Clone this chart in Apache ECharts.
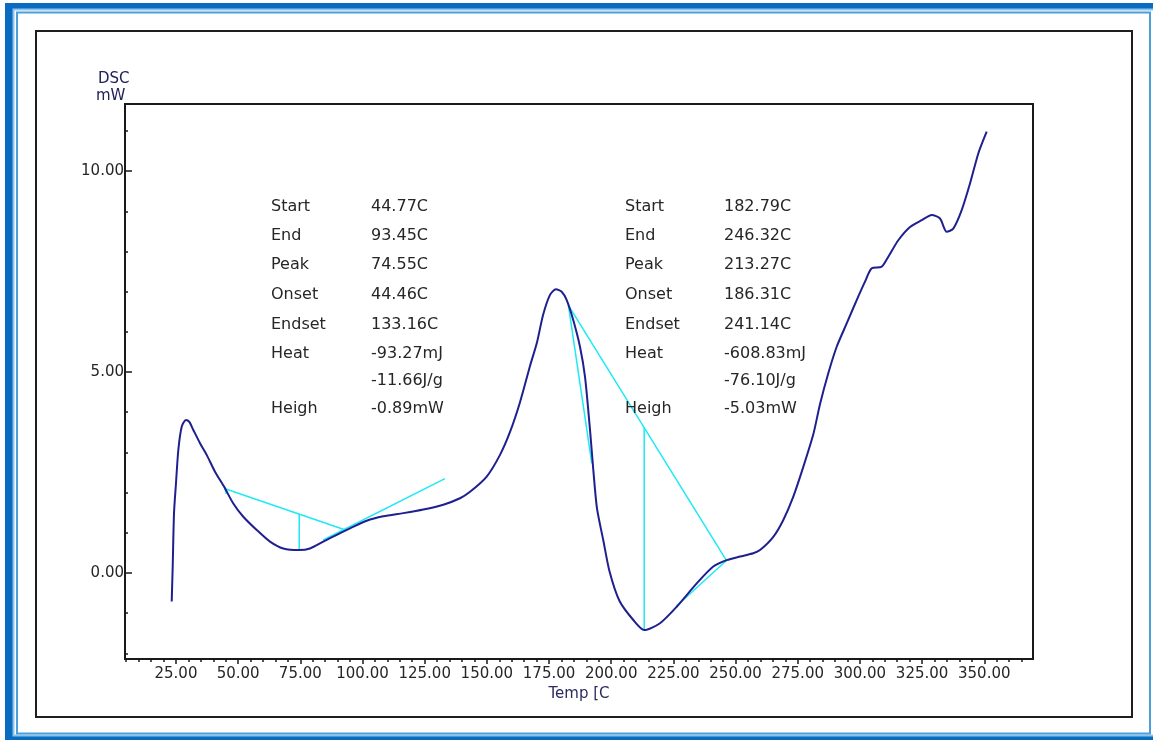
<!DOCTYPE html>
<html>
<head>
<meta charset="utf-8">
<title>DSC</title>
<script src="https://cdn.jsdelivr.net/npm/echarts@6.0.0/dist/echarts.min.js"></script>
<style>
  html, body { margin: 0; padding: 0; background: #ffffff; }
  #chart { width: 1153px; height: 740px; }
</style>
</head>
<body>
<div id="chart"></div>
<script>
// DSC trace: temperature (C) and heat flow (mW)
const temps = [
  23.28, 23.68, 24.21, 25.01, 25.94, 27.30, 29.03, 30.36, 31.97, 34.66,
  37.35, 40.69, 44.31, 48.05, 52.07, 57.46, 62.81, 68.15, 74.55, 78.89,
  84.24, 89.63, 94.97, 101.69, 108.36, 116.41, 124.45, 132.49, 139.20, 143.23,
  149.94, 155.29, 159.31, 163.33, 167.35, 170.20, 172.60, 175.39, 177.80, 180.10,
  182.11, 184.76, 187.45, 189.47, 191.48, 192.81, 194.30, 196.80, 199.28, 203.30,
  208.89, 213.27, 219.63, 226.34, 234.38, 241.05, 246.44, 251.79, 257.14, 259.83,
  265.18, 269.20, 273.22, 277.24, 281.26, 283.95, 287.29, 290.67, 294.69, 298.71,
  302.05, 304.74, 308.76, 311.42, 315.44, 320.15, 324.85, 328.87, 332.21, 334.90,
  337.55, 340.93, 344.27, 347.61, 350.98
];
const dsc = [
  -0.71, 0.16, 1.49, 2.24, 3.06, 3.64, 3.81, 3.76, 3.56, 3.23,
  2.94, 2.52, 2.15, 1.73, 1.40, 1.07, 0.78, 0.61, 0.57, 0.61,
  0.78, 0.95, 1.11, 1.30, 1.41, 1.49, 1.58, 1.70, 1.86, 2.02,
  2.40, 2.94, 3.51, 4.25, 5.15, 5.75, 6.42, 6.92, 7.06, 7.00,
  6.79, 6.29, 5.63, 4.88, 3.56, 2.56, 1.60, 0.82, 0.05, -0.69,
  -1.17, -1.42, -1.25, -0.84, -0.26, 0.16, 0.32, 0.41, 0.49, 0.57,
  0.90, 1.32, 1.90, 2.64, 3.45, 4.20, 4.97, 5.63, 6.21, 6.79,
  7.25, 7.58, 7.62, 7.87, 8.28, 8.61, 8.78, 8.91, 8.82, 8.49,
  8.57, 9.03, 9.69, 10.44, 10.98
];

// Axis ticks
const xMajorTicks = [25, 50, 75, 100, 125, 150, 175, 200, 225, 250, 275, 300, 325, 350];
const xMinorTicks = [5, 10, 15, 20, 30, 35, 40, 45, 55, 60, 65, 70, 80, 85, 90, 95, 105, 110, 115, 120,
  130, 135, 140, 145, 155, 160, 165, 170, 180, 185, 190, 195, 205, 210, 215, 220, 230, 235, 240, 245,
  255, 260, 265, 270, 280, 285, 290, 295, 305, 310, 315, 320, 330, 335, 340, 345, 355, 360, 365];
const yMajorTicks = [0, 5, 10];
const yMinorTicks = [-2, -1, 1, 2, 3, 4, 6, 7, 8, 9, 11];

// Peak analysis results: Start, End, Peak, Onset, Endset (C)
const peak1Temps = [44.77, 93.45, 74.55, 44.46, 133.16];
const peak1Heat = [-93.27, -11.66];   // mJ, J/g
const peak1Height = -0.89;            // mW
const peak2Temps = [182.79, 246.32, 213.27, 186.31, 241.14];
const peak2Heat = [-608.83, -76.10];
const peak2Height = -5.03;

// Tangent segments [t0, v0, t1, v1]
const peak1Tangents = [[44.46, 2.16, 45.20, 1.97], [84.20, 0.82, 133.16, 2.35]];
const peak2Tangents = [[182.79, 6.66, 192.20, 2.73], [226.30, -0.82, 246.32, 0.31]];

const rowLabels = ['Start', 'End', 'Peak', 'Onset', 'Endset', 'Heat', '', 'Height'];

const FONT = '"DejaVu Sans", "Liberation Sans", sans-serif';
const CURVE = '#1f1f8f';
const CYAN = '#1ee9f5';
const INK = '#262626';

function dscAt(t) {
  for (let i = 0; i < temps.length - 1; i++) {
    if (t >= temps[i] && t <= temps[i + 1]) {
      const f = (t - temps[i]) / (temps[i + 1] - temps[i]);
      return dsc[i] + f * (dsc[i + 1] - dsc[i]);
    }
  }
  return dsc[dsc.length - 1];
}

function cyanSeries(name, pts) {
  return {
    name: name, type: 'line', data: pts, showSymbol: false, silent: true,
    lineStyle: { color: CYAN, width: 1.5 }, itemStyle: { color: CYAN }, z: 3
  };
}

function analysisSeries(tag, pTemps, height, tangents) {
  const [tStart, tEnd, tPeak] = pTemps;
  const vStart = dscAt(tStart);
  const vEnd = dscAt(tEnd);
  const vBase = vStart + (tPeak - tStart) / (tEnd - tStart) * (vEnd - vStart);
  const out = [
    cyanSeries(tag + ' baseline', [[tStart, vStart], [tEnd, vEnd]]),
    cyanSeries(tag + ' height', [[tPeak, vBase], [tPeak, vBase + height]])
  ];
  tangents.forEach((s, i) => out.push(cyanSeries(tag + ' tangent ' + (i + 1), [[s[0], s[1]], [s[2], s[3]]])));
  return out;
}

function blockTexts(x0, x1, pTemps, heat, height) {
  const values = pTemps.map(t => t.toFixed(2) + 'C')
    .concat([heat[0].toFixed(2) + 'mJ', heat[1].toFixed(2) + 'J/g', height.toFixed(2) + 'mW']);
  const rowsY = [207, 236, 265, 295, 325, 354, 381, 409];
  const els = [];
  rowLabels.forEach((lab, i) => {
    if (lab) {
      const st = { text: lab, x: x0, y: rowsY[i], font: '16px ' + FONT, fill: INK, verticalAlign: 'middle' };
      // the height label sits in a narrow column and is cut at its edge
      if (lab === 'Height') Object.assign(st, { width: 50, overflow: 'truncate', ellipsis: '' });
      els.push({ type: 'text', z: 20, silent: true, style: st });
    }
    els.push({
      type: 'text', z: 20, silent: true,
      style: { text: values[i], x: x1, y: rowsY[i], font: '16px ' + FONT, fill: INK, verticalAlign: 'middle' }
    });
  });
  return els;
}

const chart = echarts.init(document.getElementById('chart'), null, { renderer: 'canvas' });

const xBase = { type: 'value', min: 4.5, max: 369.6, position: 'bottom', splitLine: { show: false } };
const yBase = { type: 'value', min: -2.14, max: 11.67, position: 'left', splitLine: { show: false } };

const option = {
  backgroundColor: '#ffffff',
  animation: false,
  grid: {
    left: 125, top: 104, right: 120, bottom: 81,
    show: true, borderColor: '#1a1a1a', borderWidth: 2, backgroundColor: 'transparent'
  },
  xAxis: [
    Object.assign({}, xBase, {
      axisLine: { show: true, onZero: false, lineStyle: { color: '#1a1a1a', width: 2 } },
      axisTick: { show: true, length: 5, customValues: xMajorTicks, lineStyle: { color: '#1a1a1a', width: 1.5 } },
      axisLabel: { customValues: xMajorTicks, formatter: v => v.toFixed(2), fontFamily: FONT, fontSize: 15, color: INK, margin: 8 },
      name: 'Temp [C', nameLocation: 'middle', nameGap: 20,
      nameTextStyle: { fontFamily: FONT, fontSize: 15, color: '#2b2b5e' }
    }),
    Object.assign({}, xBase, {
      axisLine: { show: false, onZero: false },
      axisTick: { show: true, length: 3, customValues: xMinorTicks, lineStyle: { color: '#1a1a1a', width: 1.5 } },
      axisLabel: { show: false }
    })
  ],
  yAxis: [
    Object.assign({}, yBase, {
      axisLine: { show: true, onZero: false, lineStyle: { color: '#1a1a1a', width: 2 } },
      axisTick: { show: true, inside: true, length: 7, customValues: yMajorTicks, lineStyle: { color: '#1a1a1a', width: 1.5 } },
      axisLabel: { customValues: yMajorTicks, formatter: v => v.toFixed(2), fontFamily: FONT, fontSize: 15, color: INK, margin: 1 }
    }),
    Object.assign({}, yBase, {
      axisLine: { show: false, onZero: false },
      axisTick: { show: true, inside: true, length: 3, customValues: yMinorTicks, lineStyle: { color: '#1a1a1a', width: 1.5 } },
      axisLabel: { show: false }
    })
  ],
  series: [
    {
      name: 'DSC', type: 'line', xAxisIndex: 0, yAxisIndex: 0,
      data: temps.map((t, i) => [t, dsc[i]]),
      showSymbol: false, smooth: 0.25, silent: true,
      lineStyle: { color: CURVE, width: 2 }, itemStyle: { color: CURVE }, z: 4
    }
  ].concat(analysisSeries('Peak 1', peak1Temps, peak1Height, peak1Tangents))
   .concat(analysisSeries('Peak 2', peak2Temps, peak2Height, peak2Tangents)),
  graphic: {
    elements: [
      // window frame
      { type: 'rect', z: -10, silent: true, shape: { x: 5, y: 3, width: 1160, height: 760 }, style: { fill: '#0a6cc0' } },
      { type: 'rect', z: -9, silent: true, shape: { x: 13.5, y: 9.5, width: 1150, height: 726 }, style: { fill: '#ffffff', stroke: '#8cc4ec', lineWidth: 2 } },
      { type: 'rect', z: -8, silent: true, shape: { x: 17, y: 12.5, width: 1133, height: 721 }, style: { fill: 'none', stroke: '#4d9edb', lineWidth: 2 } },
      { type: 'rect', z: -7, silent: true, shape: { x: 36, y: 31, width: 1096, height: 686 }, style: { fill: 'none', stroke: '#1e1e1e', lineWidth: 2 } },
      // y axis title
      { type: 'text', z: 20, silent: true, style: { text: 'DSC', x: 98, y: 79, font: '15px ' + FONT, fill: '#20205a', verticalAlign: 'middle' } },
      { type: 'text', z: 20, silent: true, style: { text: 'mW', x: 96, y: 96, font: '15px ' + FONT, fill: '#20205a', verticalAlign: 'middle' } }
    ].concat(blockTexts(271, 371, peak1Temps, peak1Heat, peak1Height))
     .concat(blockTexts(625, 724, peak2Temps, peak2Heat, peak2Height))
  }
};

chart.setOption(option);
</script>
</body>
</html>
